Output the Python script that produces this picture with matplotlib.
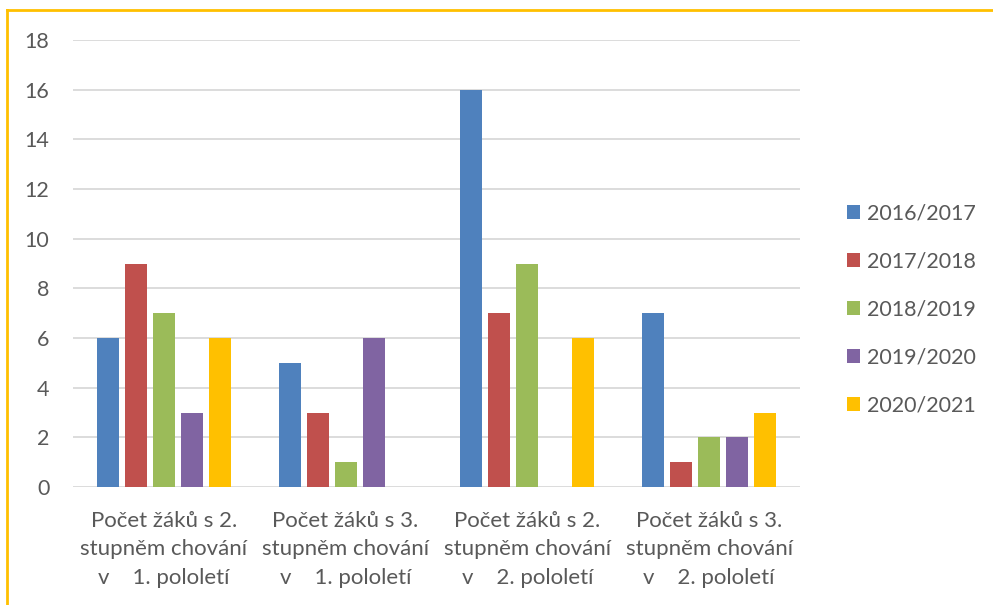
import matplotlib.pyplot as plt
import numpy as np
from matplotlib.lines import Line2D
from matplotlib.patches import Patch

categories = [
    "Počet žáků s 2.\nstupněm chování\nv    1. pololetí",
    "Počet žáků s 3.\nstupněm chování\nv    1. pololetí",
    "Počet žáků s 2.\nstupněm chování\nv    2. pololetí",
    "Počet žáků s 3.\nstupněm chování\nv    2. pololetí",
]
years = ["2016/2017", "2017/2018", "2018/2019", "2019/2020", "2020/2021"]
values_2016 = [6, 5, 16, 7]
values_2017 = [9, 3, 7, 1]
values_2018 = [7, 1, 9, 2]
values_2019 = [3, 6, 0, 2]
values_2020 = [6, 0, 6, 3]
yticks = [0, 2, 4, 6, 8, 10, 12, 14, 16, 18]

COLORS = ["#4F81BD", "#C0504D", "#9BBB59", "#8064A2", "#FFC000"]
TEXT = "#595959"
GRID = "#D9D9D9"
FONT = "Lato"

plt.rcParams["font.family"] = [FONT, "DejaVu Sans"]

fig = plt.figure(figsize=(9.93, 6.05), dpi=100)
ax = fig.add_axes([73 / 993, 1 - 487 / 605, 727 / 993, 447 / 605])

series = [values_2016, values_2017, values_2018, values_2019, values_2020]
x = np.arange(len(categories))
slot = 0.154
for j, (vals, color) in enumerate(zip(series, COLORS)):
    ax.bar(x + (j - 2) * slot, vals, width=slot * 0.78, color=color,
           linewidth=0, zorder=3)

ax.set_xlim(-0.5, len(categories) - 0.5)
ax.set_ylim(0, 18)
ax.set_yticks(yticks)
ax.yaxis.grid(True, color=GRID, linewidth=1.3, zorder=0)
ax.set_axisbelow(True)
for spine in ax.spines.values():
    spine.set_visible(False)
ax.tick_params(axis="both", length=0, colors=TEXT, labelsize=15.5)
ax.tick_params(axis="x", labelsize=16)
ax.tick_params(axis="y", pad=17)
ax.tick_params(axis="x", pad=17)
ax.set_xticks(x)
ax.set_xticklabels(categories, linespacing=1.55)

handles = [Patch(facecolor=c, edgecolor="none") for c in COLORS]
leg = fig.legend(handles, years, loc="center left", bbox_to_anchor=(0.842, 0.488),
                 frameon=False, fontsize=15.5, handlelength=0.6, handleheight=0.6,
                 handletextpad=0.35, labelspacing=1.3, borderpad=0)
for t in leg.get_texts():
    t.set_color(TEXT)

# orange frame edges (left and top)
fig.add_artist(Line2D([7 / 993, 7 / 993], [0, 1 - 10 / 605], color="#FFC000",
                      linewidth=2, transform=fig.transFigure))
fig.add_artist(Line2D([7 / 993, 1], [1 - 10 / 605, 1 - 10 / 605], color="#FFC000",
                      linewidth=2, transform=fig.transFigure))

fig.savefig("out.png", dpi=100, facecolor="white")
